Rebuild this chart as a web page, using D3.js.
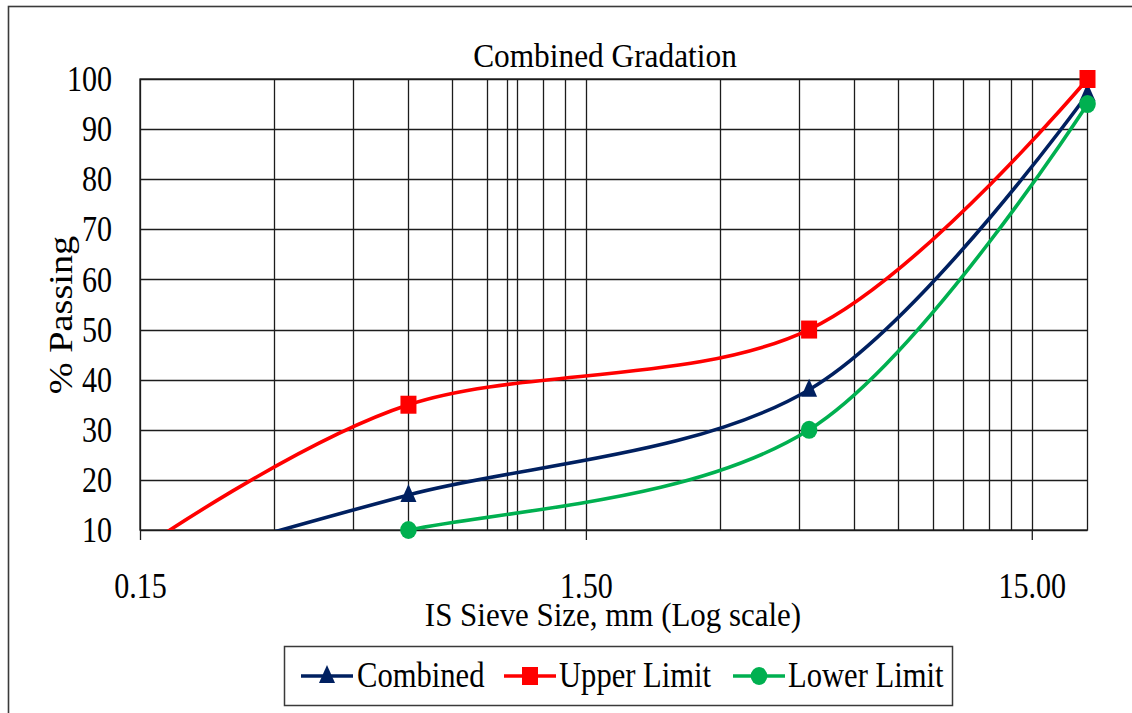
<!DOCTYPE html>
<html>
<head>
<meta charset="utf-8">
<script src="https://cdn.jsdelivr.net/npm/d3@7"></script>
<style>
  body { margin: 0; background: #fff; }
  svg { display: block; }
  text { font-family: "Liberation Serif", "Times New Roman", serif; fill: #000; }
</style>
</head>
<body>
<svg id="chart" width="1132" height="713"></svg>
<script>
// IS sieve sizes (mm) and percent passing for each curve
const sieveSizes = [0.15, 0.6, 4.75, 20];
const combined   = [2, 17, 38, 97];
const upperLimit = [6, 35, 50, 100];
const lowerLimit = [4, 10, 30, 95];

const seriesNames  = ["Combined", "Upper Limit", "Lower Limit"];
const seriesValues = [combined, upperLimit, lowerLimit];
const seriesColors = ["#002060", "#FF0000", "#00B050"];
const seriesMarkers = ["triangle", "square", "circle"];

const xTickValues = [0.15, 1.5, 15];
const yTickValues = [10, 20, 30, 40, 50, 60, 70, 80, 90, 100];
const xDomain = [0.15, 20];
const yDomain = [10, 100];

const svg = d3.select("#chart");
const box = { left: 140, right: 1087.5, top: 79, bottom: 530 };

const x = d3.scaleLog().domain(xDomain).range([box.left, box.right]);
const y = d3.scaleLinear().domain(yDomain).range([box.bottom, box.top]);

// outer chart frame (runs off the right and bottom of the page)
svg.append("rect")
  .attr("x", 8.5).attr("y", 6.5).attr("width", 1300).attr("height", 900)
  .attr("fill", "none").attr("stroke", "#3a3a3a").attr("stroke-width", 1.6);

// title
svg.append("text")
  .attr("transform", "translate(605,67) scale(0.95,1)")
  .attr("text-anchor", "middle").attr("font-size", 33)
  .text("Combined Gradation");

// gridlines: every multiple of each decade start on the log axis
const xGrid = [];
[0.15, 1.5, 15].forEach(b => {
  for (let k = 1; k <= 9; k++) { const v = b * k; if (v <= xDomain[1] + 1e-9) xGrid.push(v); }
});
xGrid.push(1.0);

const grid = svg.append("g").attr("stroke", "#1c1c1c").attr("stroke-width", 1.3);
grid.selectAll("line.v").data(xGrid).join("line")
  .attr("x1", d => Math.round(x(d)) + 0.5).attr("x2", d => Math.round(x(d)) + 0.5)
  .attr("y1", box.top).attr("y2", box.bottom);
grid.selectAll("line.h").data(yTickValues).join("line")
  .attr("x1", box.left).attr("x2", box.right)
  .attr("y1", d => Math.round(y(d)) + 0.5).attr("y2", d => Math.round(y(d)) + 0.5);
svg.append("rect")
  .attr("x", box.left).attr("y", box.top)
  .attr("width", box.right - box.left).attr("height", box.bottom - box.top)
  .attr("fill", "none").attr("stroke", "#1c1c1c").attr("stroke-width", 1.3);

// x axis
const xAxis = svg.append("g")
  .attr("transform", `translate(0,${box.bottom})`)
  .call(d3.axisBottom(x).tickValues(xTickValues).tickFormat(d3.format(".2f"))
    .tickSizeInner(10).tickSizeOuter(0).tickPadding(33));
xAxis.select(".domain").remove();
xAxis.selectAll(".tick line").attr("stroke", "#1c1c1c").attr("stroke-width", 1.3);
xAxis.selectAll(".tick text")
  .attr("font-size", 35).attr("font-family", "Liberation Serif")
  .attr("transform", "scale(0.86,1)");

// y axis
const ySx = 0.86;
const yAxis = svg.append("g")
  .attr("transform", `translate(${box.left},0)`)
  .call(d3.axisLeft(y).tickValues(yTickValues).tickSize(0).tickPadding(28));
yAxis.select(".domain").remove();
yAxis.selectAll(".tick text")
  .attr("font-size", 35).attr("font-family", "Liberation Serif")
  .attr("x", -28 / ySx).attr("dy", "0.33em")
  .attr("transform", `scale(${ySx},1)`);

// axis titles
svg.append("text")
  .attr("transform", "translate(613,626) scale(0.91,1)")
  .attr("text-anchor", "middle").attr("font-size", 34)
  .text("IS Sieve Size, mm (Log scale)");
svg.append("text")
  .attr("transform", "translate(72,315) rotate(-90) scale(1.16,1)")
  .attr("text-anchor", "middle").attr("font-size", 33)
  .text("% Passing");

// curves, clipped to the plotting area
svg.append("clipPath").attr("id", "plotClip")
  .append("rect").attr("x", box.left).attr("y", 0)
  .attr("width", 1132 - box.left).attr("height", box.bottom);

const line = d3.line()
  .x(d => x(d[0])).y(d => y(d[1]))
  .curve(d3.curveCatmullRom.alpha(0));

const curves = svg.append("g").attr("clip-path", "url(#plotClip)");
seriesValues.forEach((vals, i) => {
  curves.append("path")
    .datum(sieveSizes.map((s, j) => [s, vals[j]]))
    .attr("d", line).attr("fill", "none")
    .attr("stroke", seriesColors[i]).attr("stroke-width", 3.6)
    .attr("stroke-linejoin", "round");
});

function drawMarker(g, type, cx, cy, color) {
  if (type === "square") {
    g.append("rect").attr("x", cx - 8).attr("y", cy - 9).attr("width", 16).attr("height", 18)
      .attr("fill", color);
  } else if (type === "circle") {
    g.append("ellipse").attr("cx", cx).attr("cy", cy).attr("rx", 8.3).attr("ry", 9)
      .attr("fill", color);
  } else {
    g.append("path")
      .attr("d", `M${cx},${cy - 11}L${cx + 8},${cy + 7}L${cx - 8},${cy + 7}Z`)
      .attr("fill", color);
  }
}

const markers = svg.append("g");
seriesValues.forEach((vals, i) => {
  sieveSizes.forEach((s, j) => {
    if (vals[j] >= yDomain[0] && s >= xDomain[0]) {
      drawMarker(markers, seriesMarkers[i], x(s), y(vals[j]), seriesColors[i]);
    }
  });
});

// legend
const legend = svg.append("g");
legend.append("rect")
  .attr("x", 284.5).attr("y", 646.5).attr("width", 668).attr("height", 59)
  .attr("fill", "#fff").attr("stroke", "#3a3a3a").attr("stroke-width", 1.5);
const legendItems = [
  { lineX: 301, textX: 357 },
  { lineX: 504, textX: 559 },
  { lineX: 733, textX: 788 }
];
seriesNames.forEach((name, i) => {
  const it = legendItems[i];
  const ly = 676;
  legend.append("line")
    .attr("x1", it.lineX).attr("x2", it.lineX + 52).attr("y1", ly).attr("y2", ly)
    .attr("stroke", seriesColors[i]).attr("stroke-width", 3.6);
  drawMarker(legend, seriesMarkers[i], it.lineX + 26, ly, seriesColors[i]);
  legend.append("text")
    .attr("transform", `translate(${it.textX},687) scale(0.85,1)`)
    .attr("font-size", 36)
    .text(name);
});
</script>
</body>
</html>
